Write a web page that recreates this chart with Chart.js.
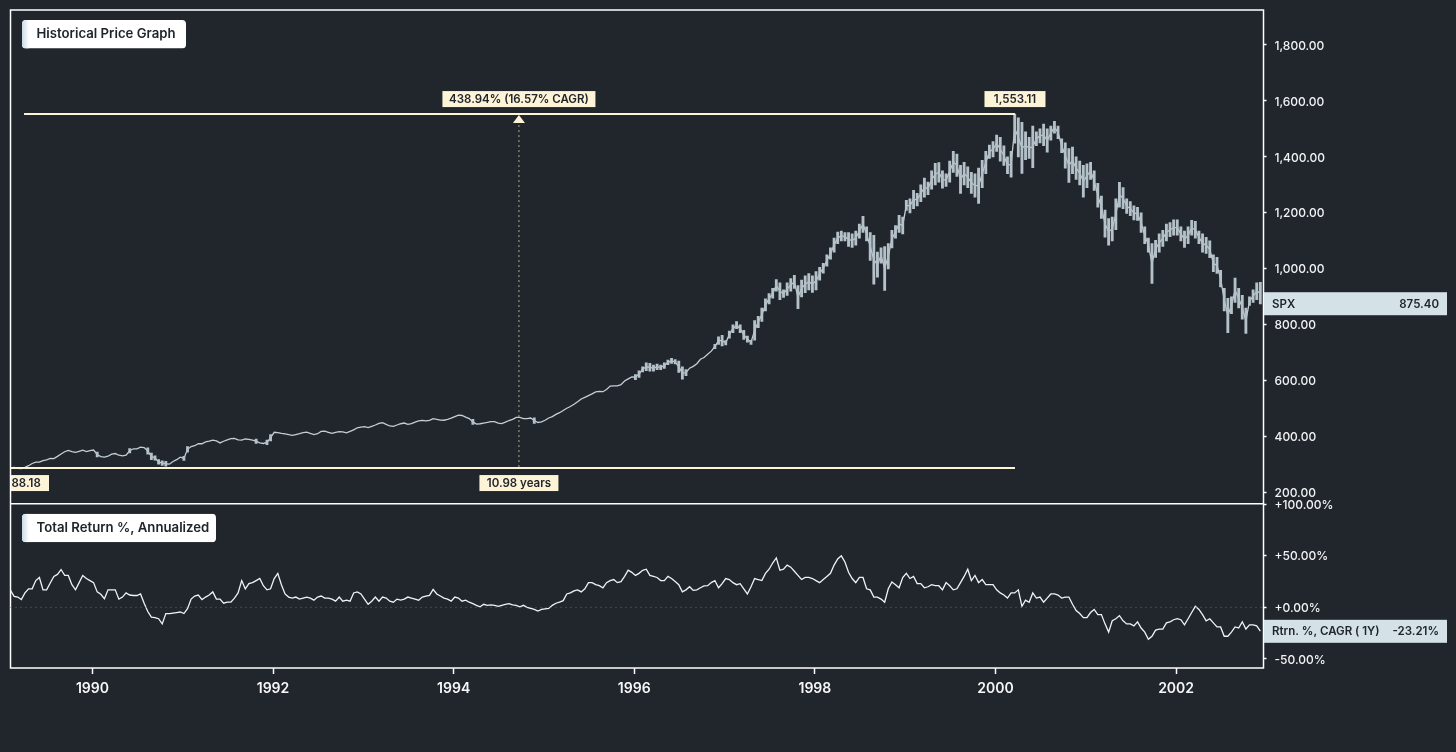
<!DOCTYPE html>
<html><head><meta charset="utf-8">
<style>html,body{margin:0;padding:0;background:#21262d;overflow:hidden}canvas{display:block}</style>
<script src="https://cdn.jsdelivr.net/npm/chart.js@4"></script>
</head><body><canvas id="c" width="1456" height="752"></canvas>
<script>
// sampling of the series: one column every 0.04 year from the left edge of the plot
const firstYear = 1989.093, yearStep = 0.04, lastYear = 2002.968;
const priceHigh = [
292,293,290,289,294,300,307,312,312,318,321,326,327,334,344,352,358,354,349,353,358,352,355,
359,345,335,332,335,342,344,340,336,338,358,362,362,368,368,360,342,332,318,314,312,309,318,324,332,
330,365,370,372,380,378,385,388,392,392,384,388,394,396,398,394,392,396,396,394,392,385,382,388,408,
420,419,416,414,412,408,412,414,418,420,416,412,414,424,424,420,416,420,422,421,418,423,428,436,438,
440,436,441,446,452,454,448,442,440,446,450,452,448,450,456,460,462,460,462,468,466,464,462,466,470,
476,481,480,474,470,462,452,451,454,456,458,460,454,452,456,462,466,474,474,470,470,472,468,456,458,
464,472,476,484,490,498,506,512,520,530,540,546,552,558,564,566,566,574,586,588,588,592,604,612,620,
622,636,650,664,662,656,660,656,664,674,680,676,670,650,640,650,658,668,684,690,700,712,730,757,762,
744,778,800,812,800,780,760,745,815,830,860,893,912,930,962,950,925,950,965,977,940,960,975,983,975,
990,1005,1020,1050,1075,1110,1131,1135,1130,1130,1125,1135,1160,1188,1150,1130,1120,1060,1075,1080,1090,1138,1155,1191,1185,
1245,1250,1281,1270,1300,1324,1310,1350,1377,1380,1350,1340,1385,1420,1410,1370,1381,1365,1345,1340,1360,1388,1420,1442,1455,
1478,1470,1440,1400,1420,1553,1540,1524,1490,1470,1510,1490,1500,1517,1500,1510,1527,1510,1465,1450,1430,1435,1400,1385,1370,
1375,1381,1350,1306,1260,1210,1180,1185,1250,1309,1290,1250,1240,1225,1220,1200,1150,1110,1090,1102,1125,1138,1160,1165,1175,
1175,1150,1135,1150,1173,1170,1135,1125,1113,1100,1050,1041,995,930,895,900,967,930,905,860,900,925,950,952
];
const priceLow = [
286,288,285,284,288,293,302,306,307,312,314,319,317,326,333,341,345,340,339,343,346,342,346,
346,328,323,322,326,334,336,328,327,330,342,352,352,358,355,338,318,316,302,298,295,295,305,312,322,
315,345,360,364,370,372,378,380,384,378,372,380,384,390,390,384,384,388,386,382,376,372,370,372,385,
412,410,408,406,403,402,404,408,411,413,408,404,408,414,416,412,408,412,415,414,410,415,421,428,431,
433,430,434,438,444,446,440,435,434,438,443,446,441,444,449,453,455,454,455,461,459,455,456,459,463,
468,474,472,466,460,444,438,442,444,446,450,448,443,442,448,454,458,464,464,460,460,462,448,446,448,
454,462,468,476,482,490,498,504,512,520,530,536,542,548,556,558,556,564,576,576,576,580,594,602,608,
604,612,632,636,634,634,640,640,644,658,662,660,630,606,618,640,645,654,670,676,690,700,715,730,725,
728,752,772,786,772,748,738,730,745,790,812,850,875,895,920,890,898,905,920,930,858,900,915,925,916,
925,960,985,1010,1035,1060,1090,1100,1100,1080,1077,1085,1110,1130,1100,1030,945,970,1020,923,1000,1075,1110,1130,1125,
1209,1200,1215,1225,1240,1256,1265,1285,1300,1310,1288,1295,1310,1345,1330,1270,1300,1290,1270,1256,1234,1290,1340,1395,1400,
1420,1385,1370,1340,1328,1449,1400,1341,1390,1395,1362,1440,1450,1440,1417,1460,1485,1465,1415,1360,1309,1340,1320,1300,1256,
1290,1320,1280,1220,1180,1113,1085,1100,1140,1220,1215,1198,1190,1175,1173,1130,1090,1060,948,1041,1060,1080,1100,1115,1120,
1120,1100,1077,1090,1120,1110,1090,1060,1055,1040,990,984,935,850,772,840,880,860,820,769,869,880,890,875
];
const returnPct = [
16.6,10.7,10,7.5,14,18,18,26,29,17,17,23.7,30,32,36.7,31,31,22,17,24,31,28,26,
24,15,12.7,8.4,17,17,17,8,10,14,12,11.5,11.5,13,4,-4,-9.4,-10,-11,-16,-6,-6,-5.5,-5,-4.5,
-6,-1.3,8,11,12,7.5,10,12,15,8,8,4,5,5,9,14,26,18,23,24,26,28,21,17,18,
28,33,22,13,10,9,10,8,9,10,9,7,10,11,9,9,8,6,10,6,7,6,14,15,13,
8,3,6,10,6,10,9,6,5,8,7,8,10,9,8,7,10,11,11.7,17.5,13,11,9,8,6,
10,9,6,7,5,3.6,2,0.5,3,2,2.5,2,1,2,3,3.6,2.5,2,0.6,2,0,-1,-2,-3.6,-2,
-1.5,-1,2,4,5,6.5,13,14,16,17,15,18,24,24,22,21,19,24,26,27,24,25,30,36,34,
31,33,36,37,31,30,29,26,26,30,28,25,22,15,17,20,16.5,17,19,20.8,21,24,26,19,23,
28,27,24,22,23,18,13,20,28,27,26,33,37,43,48,36,37,41,39,35,31,27,29,29,28,
26,24,27,30,33,41,47,50,44,34,28,24,29,29,18,17,10,10,8,5,18,24.7,22,19,29,
33,28,30,23,23,19,20,22,21,21,17,24,21,17,18,24,30,37,26,31,24,27,22,22,22,
17,14,12,9,14,14,17,1,7,5,14,9,10,5,9,13,13,12,9,10,10,3,-3,-6,-10,
-10,-5,-2,-7,-7,-16,-24,-13,-11,-8,-13,-16,-16,-18,-14,-20,-24,-31,-28,-22,-21,-21,-15,-14,-12,
-11,-12,-17,-11,-5,1,-2,-7,-13,-11,-15,-19,-19,-28,-28,-24,-19,-20,-14,-21,-17,-17,-18,-23
];
const yearTicks = [1990,1992,1994,1996,1998,2000,2002];
const priceTicks = [200,400,600,800,1000,1200,1400,1600,1800];
const returnTicks = [-50,0,50,100];
const priceMin = 160.6, priceMax = 1925, returnMin = -58.8, returnMax = 100.5;

const peakValue = 1553.11, peakYear = 2000.216, troughValue = 288.18;
const lineStartYear = 1989.243, spanYear = 1994.723;
const spxLast = 875.40, returnLast = -23.21;
const labels = {
  title1:'Historical Price Graph', title2:'Total Return %, Annualized',
  gain:'438.94% (16.57% CAGR)', peak:'1,553.11', span:'10.98 years', trough:'88.18',
  spx:'SPX', spxVal:'875.40', ret:'Rtrn. %, CAGR ( 1Y)', retVal:'-23.21%'
};
const BAR='#b4c1c8', CREAM='#fdf3d6', FONT='Inter, "Noto Sans", sans-serif';
const thinRange = 15;

const years = priceHigh.map((_,i)=>firstYear+i*yearStep);
const priceBars = years.map((x,i)=>({x,y:[priceLow[i],priceHigh[i]]}));
const priceMid = years.map((x,i)=>({x,y:(priceLow[i]+priceHigh[i])/2}));
const returnLine = returnPct.map((y,i)=>({x:firstYear+i*yearStep,y}));

const overlay = {
  id:'overlay',
  afterDatasetsDraw(ch){
    const c=ch.ctx, a=ch.chartArea, X=ch.scales.x, Y=ch.scales.y, R=ch.scales.yr;
    const xp=v=>X.getPixelForValue(v), yp=v=>Y.getPixelForValue(v), rp=v=>R.getPixelForValue(v);
    c.save();
    // frame
    c.strokeStyle='#ffffff'; c.lineWidth=1.5;
    c.strokeRect(a.left,a.top,a.right-a.left,a.bottom-a.top);
    c.beginPath(); c.moveTo(a.left,Y.bottom); c.lineTo(a.right+0.5,Y.bottom); c.stroke();
    // zero line
    c.strokeStyle='#626870'; c.lineWidth=1; c.setLineDash([1,4]);
    c.beginPath(); c.moveTo(a.left,rp(0)); c.lineTo(a.right,rp(0)); c.stroke();
    // measure lines
    c.setLineDash([]); c.strokeStyle=CREAM; c.lineWidth=2;
    c.beginPath(); c.moveTo(xp(lineStartYear),yp(peakValue)); c.lineTo(xp(peakYear),yp(peakValue)); c.stroke();
    c.beginPath(); c.moveTo(a.left,yp(troughValue)); c.lineTo(xp(peakYear),yp(troughValue)); c.stroke();
    c.strokeStyle='#a9ad8f'; c.lineWidth=1; c.setLineDash([2,3]);
    c.beginPath(); c.moveTo(xp(spanYear),yp(peakValue)+6); c.lineTo(xp(spanYear),yp(troughValue)); c.stroke();
    c.setLineDash([]);
    const sx=xp(spanYear), ty=yp(peakValue);
    c.fillStyle=CREAM; c.beginPath(); c.moveTo(sx,ty+1); c.lineTo(sx+6,ty+9); c.lineTo(sx-6,ty+9); c.closePath(); c.fill();
    // value tags
    c.textBaseline='middle';
    function tag(text,cx,cy,w,h){
      c.fillStyle=CREAM; c.fillRect(cx-w/2,cy-h/2,w,h);
      c.fillStyle='#20252c'; c.font='600 11.5px '+FONT; c.textAlign='center';
      c.fillText(text,cx,cy+0.5);
    }
    tag(labels.gain,sx,yp(peakValue)-15,153,16);
    tag(labels.peak,xp(peakYear),yp(peakValue)-15,61,16);
    tag(labels.span,sx,yp(troughValue)+15,79,16);
    c.fillStyle=CREAM; c.fillRect(a.left+0.5,yp(troughValue)+7,38,16);
    c.fillStyle='#20252c'; c.font='600 11.5px '+FONT; c.textAlign='left';
    c.fillText(labels.trough,a.left+1,yp(troughValue)+15.5);
    // panel titles
    function title(text,top,w){
      const l=a.left+11.5,h=28.5;
      c.beginPath(); c.roundRect(l,top,w,h,4); c.save(); c.clip();
      c.fillStyle='#ffffff'; c.fillRect(l,top,w,h);
      const g=c.createLinearGradient(l,0,l+7,0); g.addColorStop(0,'#c9dbe5'); g.addColorStop(1,'#ffffff');
      c.fillStyle=g; c.fillRect(l,top,7,h); c.restore();
      c.fillStyle='#20252c'; c.font='600 13.2px '+FONT; c.textAlign='left';
      c.fillText(text,l+14.5,top+h/2);
    }
    title(labels.title1,a.top+10,164);
    title(labels.title2,Y.bottom+10,194);
    // last-value boxes
    function last(name,val,cy){
      c.fillStyle='#d4e2e7'; c.fillRect(a.right+0.5,cy-11.5,183,23);
      c.fillStyle='#20252c'; c.font='600 11.5px '+FONT; c.textAlign='left';
      c.fillText(name,a.right+8.5,cy+0.5);
      c.textAlign='right'; c.fillText(val,a.right+175.5,cy+0.5);
    }
    last(labels.spx,labels.spxVal,yp(spxLast));
    last(labels.ret,labels.retVal,rp(returnLast));
    c.restore();
  }
};
const setTicks=list=>s=>{s.ticks=list.map(value=>({value}));};
const fitY=s=>{s.width=192.5;s.paddingTop=0;s.paddingBottom=0;};
const yCommon={
  position:'right',stack:'panels',
  grid:{drawOnChartArea:false,color:'#ffffff',tickLength:3,tickWidth:1.5},
  border:{display:false},
  afterFit:fitY
};
new Chart(document.getElementById('c'),{
  type:'bar',
  data:{datasets:[
    {type:'bar',data:priceBars,xAxisID:'x',yAxisID:'y',barThickness:2.2,order:1,
      backgroundColor:ctx=>{const i=ctx.dataIndex;return priceHigh[i]-priceLow[i]<thinRange?'rgba(0,0,0,0)':BAR;}},
    {type:'line',data:priceMid,xAxisID:'x',yAxisID:'y',borderColor:'#c3ced3',borderWidth:1.3,pointRadius:0,tension:0,order:2},
    {type:'line',data:returnLine,xAxisID:'x',yAxisID:'yr',borderColor:'#f0f3f5',borderWidth:1.3,pointRadius:0,tension:0,order:3}
  ]},
  plugins:[overlay],
  options:{
    responsive:false,animation:false,devicePixelRatio:1,
    layout:{padding:{left:10.5,top:10,right:0,bottom:44}},
    plugins:{legend:{display:false},tooltip:{enabled:false}},
    events:[],
    scales:{
      x:{type:'linear',position:'bottom',offset:false,min:firstYear,max:lastYear,
        afterBuildTicks:setTicks(yearTicks),
        afterFit:s=>{s.height=40;s.paddingLeft=0;s.paddingRight=0;},
        grid:{offset:false,drawOnChartArea:false,color:'#ffffff',tickLength:6,tickWidth:1.5},
        border:{display:false},
        ticks:{color:'#f6f7f8',font:{family:FONT,size:14,weight:'600'},padding:6,autoSkip:false,maxRotation:0,callback:v=>String(v)}
      },
      y:{...yCommon,stackWeight:493,min:priceMin,max:priceMax,
        afterBuildTicks:setTicks(priceTicks),
        ticks:{color:'#f2f3f5',font:{family:FONT,size:12,weight:'500'},padding:8,autoSkip:false,labelOffset:1,
          callback:v=>v.toLocaleString('en-US',{minimumFractionDigits:2,maximumFractionDigits:2})}
      },
      yr:{...yCommon,stackWeight:164,min:returnMin,max:returnMax,
        afterBuildTicks:setTicks(returnTicks),
        ticks:{color:'#f2f3f5',font:{family:FONT,size:12,weight:'500'},padding:8,autoSkip:false,labelOffset:1,
          callback:v=>(v>=0?'+':'')+v.toFixed(2)+'%'}
      }
    }
  }
});
</script></body></html>
